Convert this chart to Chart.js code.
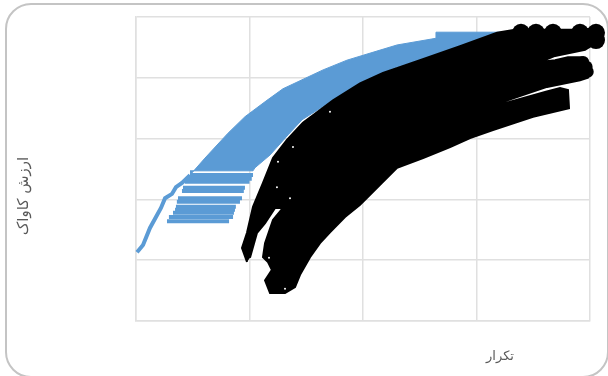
<!DOCTYPE html>
<html lang="fa">
<head>
<meta charset="utf-8">
<title>chart</title>
<script src="https://cdn.jsdelivr.net/npm/chart.js@4"></script>
<style>
  html, body { margin: 0; padding: 0; background: #fff; overflow: hidden; }
  #frame { position: absolute; left: 5px; top: 3px; width: 600px; height: 371px; border: 2px solid #c4c4c4; border-radius: 26px; }
  #chart { position: absolute; left: 0; top: 0; }
</style>
</head>
<body>
<div id="frame"></div>
<canvas id="chart" width="608" height="376"></canvas>
<script>
const xTitle = 'تکرار'
const yTitle = 'ارزش کاواک'

// rising part of the blue series, still a single thin run
const blueLineX = [0.9, 6.2, 12.3, 17.6, 22, 25.6, 31.7, 35.2, 40.5, 47.6]
const blueLineY = [1.13, 1.25, 1.53, 1.71, 1.86, 2.02, 2.09, 2.2, 2.27, 2.4]

// where the blue points pile up into a solid band
const blueBandX = [47.6, 60.8, 81.1, 96, 115.4, 129.5, 164.8, 185.9, 212.3, 230, 264.3, 264.3, 325.1,
  325.1, 276.7, 230, 200, 170.9, 146.3, 133.9, 118.1, 104.8, 103.1, 47.6]
const blueBandY = [2.4, 2.68, 3.09, 3.36, 3.63, 3.82, 4.13, 4.29, 4.44, 4.54, 4.65, 4.75, 4.75,
  4.29, 4.42, 4.18, 3.93, 3.6, 3.31, 3.06, 2.73, 2.52, 2.47, 2.47]

// horizontal runs below the band
const runLevel = [2.4, 2.34, 2.29, 2.19, 2.14, 2.02, 1.96, 1.88, 1.83, 1.78, 1.71, 1.64]
const runStart = [47.6, 45, 43, 41.4, 40.5, 37, 36, 35.2, 34.4, 32.6, 29, 27.3]
const runEnd = [103.1, 102, 100, 96, 95, 93.4, 91.6, 88, 87.2, 86.3, 85.5, 82]

// outline of the overlapping black data labels
const labelsX = [97.8, 93.4, 97.8, 103.1, 111.9, 120.7, 133, 147.1, 173.6, 197.4, 217.6, 250.2, 285.5, 318.1,
  333.9, 400, 400, 395.6, 369.2, 355.9, 369.2, 380.6, 393, 396.5, 400, 400, 398.2, 391.2, 362.1,
  294.3, 361.2, 373.6, 380.6, 381.5, 349.8, 314.5, 294.3, 276.7, 252.9, 230, 215, 197.4, 184.1, 170.9,
  162.1, 153.3, 144.5, 140.1, 131.3, 118.1, 113.7, 119.8, 116.3, 111.9, 113.7, 120.7, 129.5, 122.5,
  113.7, 106.6, 100.4]
const labelsY = [0.97, 1.2, 1.45, 1.88, 2.27, 2.68, 2.98, 3.26, 3.63, 3.91, 4.08, 4.29, 4.52, 4.74,
  4.79, 4.79, 4.51, 4.46, 4.36, 4.26, 4.29, 4.34, 4.34, 4.24, 4.19, 4.08, 4, 3.96, 3.85,
  3.42, 3.77, 3.83, 3.8, 3.5, 3.36, 3.14, 3.01, 2.86, 2.68, 2.52, 2.24, 1.91, 1.71, 1.46,
  1.28, 1.05, 0.76, 0.56, 0.46, 0.46, 0.67, 0.84, 0.97, 1.05, 1.28, 1.66, 1.86, 1.86,
  1.61, 1.45, 1.04]

// round label ends sticking out at the top right
const blobX = [339.2, 352.4, 367.4, 391.2, 405.3, 405.3, 400, 395]
const blobY = [4.74, 4.74, 4.74, 4.74, 4.74, 4.62, 4.68, 4.62]

// smaller label ends of the middle run
const midEndX = [397, 398, 394]
const midEndY = [4.18, 4.1, 4.26]

// small holes left between the labels
const holeX = [138.3, 170.9, 124.2, 125.1, 135.7, 117.2, 131.3]
const holeY = [2.86, 3.44, 2.2, 2.62, 2.02, 1.04, 0.53]

const BLUE = '#5b9bd5'
const GRID = '#e0e0e0'

function zip(xs, ys) {
  return xs.map((x, i) => ({ x, y: ys[i] }))
}

const datasets = []

datasets.push({
  data: zip(labelsX, labelsY),
  showLine: true,
  fill: 'shape',
  backgroundColor: '#000',
  borderColor: '#000',
  borderWidth: 2,
  pointRadius: 0,
  clip: false,
  order: 1
})

datasets.push({
  data: zip(blobX, blobY),
  backgroundColor: '#000',
  borderWidth: 0,
  pointRadius: 9,
  clip: false,
  order: 1
})

datasets.push({
  data: zip(midEndX, midEndY),
  backgroundColor: '#000',
  borderWidth: 0,
  pointRadius: 6,
  clip: false,
  order: 1
})

datasets.push({
  data: zip(holeX, holeY),
  backgroundColor: '#fff',
  borderWidth: 0,
  pointRadius: 1,
  clip: false,
  order: 0
})

datasets.push({
  data: zip(blueBandX, blueBandY),
  showLine: true,
  fill: 'shape',
  backgroundColor: BLUE,
  borderColor: BLUE,
  borderWidth: 1,
  pointRadius: 0,
  order: 2
})

datasets.push({
  data: zip(blueLineX, blueLineY),
  showLine: true,
  borderColor: BLUE,
  borderWidth: 4,
  pointRadius: 0,
  clip: false,
  order: 2
})

runLevel.forEach((level, i) => {
  datasets.push({
    data: [{ x: runStart[i], y: level }, { x: runEnd[i], y: level }],
    showLine: true,
    borderColor: BLUE,
    borderWidth: 4,
    pointRadius: 0,
    order: 2
  })
})

const axisTitles = {
  id: 'axisTitles',
  afterDraw(chart) {
    const { ctx, chartArea } = chart
    ctx.save()
    ctx.fillStyle = '#595959'
    ctx.textAlign = 'center'
    ctx.textBaseline = 'middle'
    ctx.font = '13px "DejaVu Sans"'
    ctx.fillText(xTitle, chartArea.right - 90, chartArea.bottom + 36)
    ctx.font = '15px "DejaVu Sans"'
    ctx.translate(chartArea.left - 112, chartArea.top + 179)
    ctx.rotate(-Math.PI / 2)
    ctx.fillText(yTitle, 0, 0)
    ctx.restore()
  }
}

new Chart(document.getElementById('chart').getContext('2d'), {
  type: 'scatter',
  data: { datasets },
  options: {
    responsive: false,
    animation: false,
    layout: { padding: { left: 136, right: 18, top: 17, bottom: 55 } },
    plugins: { legend: { display: false }, tooltip: { enabled: false } },
    scales: {
      x: {
        min: 0,
        max: 400,
        ticks: { stepSize: 100, display: false },
        grid: { color: GRID, lineWidth: 1.5, drawTicks: false },
        border: { color: GRID, width: 1.5 }
      },
      y: {
        min: 0,
        max: 5,
        ticks: { stepSize: 1, display: false },
        grid: { color: GRID, lineWidth: 1.5, drawTicks: false },
        border: { color: GRID, width: 1.5 }
      }
    }
  },
  plugins: [axisTitles]
})
</script>
</body>
</html>
